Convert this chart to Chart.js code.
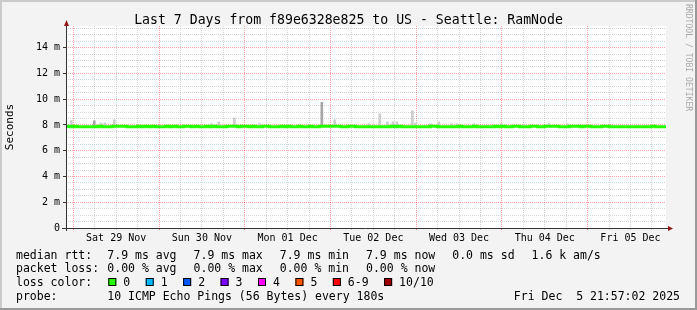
<!DOCTYPE html>
<html>
<head>
<meta charset="utf-8">
<script src="https://cdn.jsdelivr.net/npm/chart.js@4.4.1/dist/chart.umd.min.js"></script>
<style>
html, body { margin: 0; padding: 0; background: #f3f3f3; }
canvas { display: block; }
</style>
</head>
<body>
<canvas id="chart" width="697" height="310"></canvas>
<script>
// x axis is in hours since Sat 29 Nov 00:00; graph covers Fri 28 Nov 21:57 -> Fri 05 Dec 21:57
const xStart = -2.05;
const xEnd = 165.95;

const dayTicks = [0, 24, 48, 72, 96, 120, 144];
const gridTicks = [0, 6, 12, 18, 24, 30, 36, 42, 48, 54, 60, 66, 72, 78, 84, 90, 96, 102, 108, 114, 120, 126, 132, 138, 144, 150, 156, 162];
const labelTicks = [12, 36, 60, 84, 108, 132, 156];
const dayLabels = ['Sat 29 Nov', 'Sun 30 Nov', 'Mon 01 Dec', 'Tue 02 Dec', 'Wed 03 Dec', 'Thu 04 Dec', 'Fri 05 Dec'];

const yTicks = [0, 0.5, 1, 1.5, 2, 2.5, 3, 3.5, 4, 4.5, 5, 5.5, 6, 6.5, 7, 7.5, 8, 8.5, 9, 9.5, 10, 10.5, 11, 11.5, 12, 12.5, 13, 13.5, 14, 14.5, 15, 15.5];
const yMajor = [2, 4, 6, 8, 10, 12, 14];

// median rtt (ms), one value per hour from the left edge of the graph
const medianRtt = [
  7.9, 7.86,
  7.9, 7.86, 7.86, 7.86, 7.86, 7.86, 7.86, 7.9, 7.86, 7.86, 7.86, 7.9, 7.9, 7.9, 7.9, 7.86, 7.86, 7.86, 7.9, 7.86, 7.9, 7.86, 7.9, 7.86,
  7.86, 7.86, 7.9, 7.86, 7.9, 7.86, 7.86, 7.9, 7.9, 7.86, 7.9, 7.86, 7.86, 7.9, 7.86, 7.9, 7.86, 7.86, 7.86, 7.9, 7.9, 7.9, 7.86, 7.9,
  7.9, 7.86, 7.9, 7.86, 7.86, 7.9, 7.9, 7.86, 7.86, 7.86, 7.9, 7.86, 7.9, 7.86, 7.86, 7.9, 7.86, 7.86, 7.9, 7.86, 7.86, 7.9, 7.9, 7.9,
  7.9, 7.9, 7.9, 7.86, 7.86, 7.9, 7.9, 7.86, 7.86, 7.86, 7.86, 7.86, 7.86, 7.86, 7.86, 7.86, 7.86, 7.9, 7.86, 7.9, 7.86, 7.86, 7.86, 7.86,
  7.86, 7.86, 7.86, 7.86, 7.9, 7.9, 7.86, 7.86, 7.86, 7.86, 7.86, 7.86, 7.9, 7.86, 7.86, 7.86, 7.9, 7.86, 7.86, 7.86, 7.86, 7.86, 7.9, 7.86,
  7.9, 7.86, 7.86, 7.9, 7.9, 7.86, 7.86, 7.86, 7.9, 7.9, 7.86, 7.86, 7.9, 7.9, 7.9, 7.9, 7.86, 7.86, 7.86, 7.9, 7.9, 7.9, 7.86, 7.9,
  7.9, 7.86, 7.86, 7.86, 7.9, 7.9, 7.86, 7.86, 7.86, 7.86, 7.86, 7.86, 7.86, 7.86, 7.86, 7.86, 7.86, 7.86, 7.9, 7.86, 7.86, 7.86, 7.86
];

// smoke (ping spread): hour and highest ping in ms
const smokeHours = [-0.85, 7.41, 8.53, 11.2, 38.35, 40.45, 44.8, 51.8, 72.94, 82.46, 85.54, 87.64, 89.2, 90.3, 94.65, 95.6, 99.7, 102.07, 105.7, 107.1, 111.86, 119.7, 132.86, 138.2];
const smokeTops = [8.34, 8.16, 8.16, 8.4, 8.1, 8.24, 8.55, 8.1, 8.4, 8.1, 8.86, 8.24, 8.24, 8.24, 9.1, 8.16, 8.1, 8.24, 8.1, 8.1, 8.1, 8.1, 8.1, 8.1];
const darkSmokeHours = [6.15, 69.86];
const darkSmokeTops = [8.32, 9.75];

const statLabels = ['7.9 ms avg', '7.9 ms max', '7.9 ms min', '7.9 ms now', '0.0 ms sd', '1.6 k am/s'];
const lossStatLabels = ['0.00 % avg', '0.00 % max', '0.00 % min', '0.00 % now'];
const lossLabels = ['0', '1', '2', '3', '4', '5', '6-9', '10/10'];
const lossColors = ['#26ff00', '#00b8ff', '#0059ff', '#7e00ff', '#ff00ff', '#ff5500', '#ff0000', '#a10000'];

const MONO = 'DejaVu Sans Mono';
const majorGrid = 'rgba(255, 0, 0, 0.36)';
const minorGrid = 'rgba(150, 150, 150, 0.4)';

const medianPoints = medianRtt.map((v, i) => ({ x: xStart + i, y: v }));
const smokePoints = smokeHours.map((h, i) => ({ x: h, y: [7.88, smokeTops[i]] }));
const darkSmokePoints = darkSmokeHours.map((h, i) => ({ x: h, y: [7.88, darkSmokeTops[i]] }));

const rrdDecor = {
  id: 'rrdDecor',
  beforeDraw(chart) {
    const ctx = chart.ctx;
    const a = chart.chartArea;
    ctx.save();
    ctx.fillStyle = '#f3f3f3';
    ctx.fillRect(0, 0, chart.width, chart.height);
    ctx.fillStyle = '#ffffff';
    ctx.fillRect(a.left, a.top, a.right - a.left, a.bottom - a.top);
    ctx.restore();
  },
  afterDraw(chart) {
    const ctx = chart.ctx;
    const a = chart.chartArea;
    ctx.save();

    // axes with arrows
    ctx.strokeStyle = '#333333';
    ctx.lineWidth = 1;
    ctx.beginPath();
    ctx.moveTo(a.left + 0.5, a.bottom + 3);
    ctx.lineTo(a.left + 0.5, a.top - 4);
    ctx.moveTo(a.left - 4, a.bottom + 0.5);
    ctx.lineTo(a.right + 3, a.bottom + 0.5);
    ctx.stroke();
    ctx.fillStyle = '#8f1414';
    ctx.beginPath();
    ctx.moveTo(a.left + 0.5, a.top - 6);
    ctx.lineTo(a.left - 2, a.top);
    ctx.lineTo(a.left + 3, a.top);
    ctx.closePath();
    ctx.fill();
    ctx.beginPath();
    ctx.moveTo(a.right + 7, a.bottom + 0.5);
    ctx.lineTo(a.right + 2, a.bottom - 2);
    ctx.lineTo(a.right + 2, a.bottom + 3);
    ctx.closePath();
    ctx.fill();

    // title
    ctx.fillStyle = '#000';
    ctx.font = '13.2px "' + MONO + '"';
    ctx.textAlign = 'center';
    ctx.textBaseline = 'alphabetic';
    ctx.fillText('Last 7 Days from f89e6328e825 to US - Seattle: RamNode', 348.5, 24);

    // legend
    ctx.font = '11.5px "' + MONO + '"';
    ctx.textAlign = 'left';
    const col = 107.3;
    const gap = 17;
    function row(head, items, y) {
      ctx.fillText(head, 16, y);
      let x = col;
      items.forEach(t => {
        ctx.fillText(t, x, y);
        x += ctx.measureText(t).width + gap;
      });
    }
    row('median rtt:', statLabels, 258.5);
    row('packet loss:', lossStatLabels, 272.2);

    ctx.fillText('loss color:', 16, 285.9);
    let x = 108.3;
    lossLabels.forEach((t, i) => {
      ctx.fillStyle = lossColors[i];
      ctx.fillRect(x, 278, 8, 8);
      ctx.strokeStyle = '#000';
      ctx.strokeRect(x + 0.5, 278.5, 7, 7);
      ctx.fillStyle = '#000';
      ctx.fillText(t, x + 15, 285.9);
      x += 15 + ctx.measureText(t).width + 15.5;
    });

    ctx.fillText('probe:', 16, 299.6);
    ctx.fillText('10 ICMP Echo Pings (56 Bytes) every 180s', col, 299.6);
    ctx.textAlign = 'right';
    ctx.fillText('Fri Dec  5 21:57:02 2025', 680, 299.6);

    // watermark
    ctx.save();
    ctx.translate(688.5, 4);
    ctx.rotate(Math.PI / 2);
    ctx.font = '8.1px "' + MONO + '"';
    ctx.fillStyle = '#a9a9a9';
    ctx.textAlign = 'left';
    ctx.textBaseline = 'middle';
    ctx.fillText('RRDTOOL / TOBI OETIKER', 0, 0);
    ctx.restore();

    // frame
    ctx.fillStyle = '#cbcbcb';
    ctx.fillRect(0, 0, chart.width, 2);
    ctx.fillRect(0, 0, 2, chart.height);
    ctx.fillStyle = '#999999';
    ctx.fillRect(0, chart.height - 2, chart.width, 2);
    ctx.fillRect(chart.width - 2, 0, 2, chart.height);
    ctx.restore();
  }
};

new Chart(document.getElementById('chart'), {
  data: {
    datasets: [
      {
        type: 'line',
        data: medianPoints,
        borderColor: '#22ff00',
        borderWidth: 3,
        stepped: true,
        pointRadius: 0,
        fill: false
      },
      {
        type: 'bar',
        data: darkSmokePoints,
        backgroundColor: '#a6a6a6',
        barThickness: 2,
        borderWidth: 0
      },
      {
        type: 'bar',
        data: smokePoints,
        backgroundColor: '#cccccc',
        barThickness: 2,
        borderWidth: 0
      }
    ]
  },
  options: {
    responsive: false,
    animation: false,
    devicePixelRatio: 1,
    layout: { padding: { left: 0, right: 31, top: 26, bottom: 0 } },
    plugins: { legend: { display: false }, tooltip: { enabled: false }, title: { display: false } },
    scales: {
      x: {
        type: 'linear',
        min: xStart,
        max: xEnd,
        offset: false,
        afterFit: s => { s.height = 82; },
        afterBuildTicks: s => { s.ticks = gridTicks.map(v => ({ value: v })); },
        grid: {
          offset: false,
          color: c => (c.tick && dayTicks.includes(c.tick.value)) ? majorGrid : minorGrid,
          tickColor: c => (c.tick && dayTicks.includes(c.tick.value)) ? 'rgba(255,0,0,0.5)' : 'rgba(150,150,150,0.5)',
          tickLength: 2,
          lineWidth: 1
        },
        border: { display: false, dash: [1, 1] },
        ticks: {
          autoSkip: false,
          maxRotation: 0,
          padding: 2,
          color: '#000',
          font: { family: MONO, size: 10 },
          callback: v => { const k = labelTicks.indexOf(v); return k < 0 ? '' : dayLabels[k]; }
        }
      },
      y: {
        type: 'linear',
        min: 0,
        max: 15.68,
        afterFit: s => { s.width = 66; },
        afterBuildTicks: s => { s.ticks = yTicks.map(v => ({ value: v })); },
        grid: {
          color: c => {
            if (!c.tick || c.tick.value === 0) return 'rgba(0,0,0,0)';
            return yMajor.includes(c.tick.value) ? majorGrid : minorGrid;
          },
          tickColor: c => (c.tick && (yMajor.includes(c.tick.value) || c.tick.value === 0)) ? '#333' : 'rgba(0,0,0,0)',
          tickLength: 3,
          lineWidth: 1
        },
        border: { display: false, dash: [1, 1] },
        ticks: {
          autoSkip: false,
          padding: 3,
          color: '#000',
          font: { family: MONO, size: 10 },
          callback: v => v === 0 ? '0' : (yMajor.includes(v) ? v + ' m' : '')
        },
        title: {
          display: true,
          text: 'Seconds',
          color: '#000',
          font: { family: MONO, size: 11 },
          padding: { top: 4, bottom: 0 }
        }
      }
    }
  },
  plugins: [rrdDecor]
});
</script>
</body>
</html>
